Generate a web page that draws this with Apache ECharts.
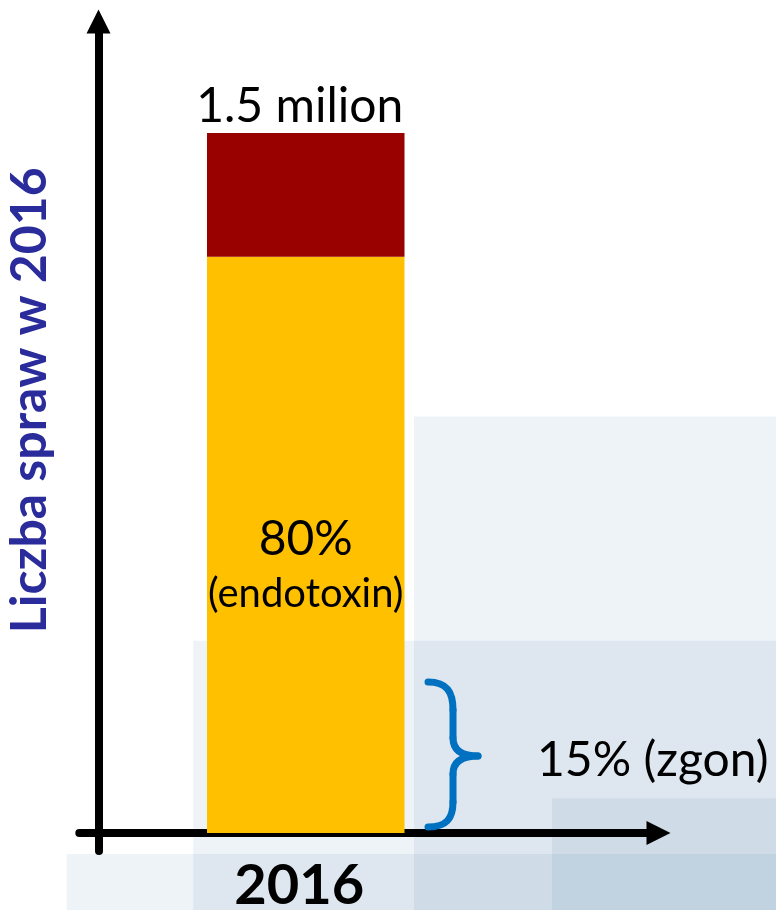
<!DOCTYPE html>
<html>
<head>
<meta charset="utf-8">
<script src="https://cdn.jsdelivr.net/npm/echarts@6/dist/echarts.min.js"></script>
<style>
html,body{margin:0;padding:0;background:#fff;}
#chart{width:776px;height:910px;}
</style>
</head>
<body>
<div id="chart"></div>
<script>
// ---- data ----
const categories = ['2016'];
const endotoxinValues = [1.235];  // yellow segment (80%)
const otherValues = [0.265];      // dark red segment
const totalLabel = '1.5 milion';
const endotoxinPct = '80%';
const endotoxinName = '(endotoxin)';
const deathLabel = '15% (zgon)';
const yAxisName = 'Liczba spraw w 2016';

// ---- layout ----
const FONT = 'Lato, "Open Sans", sans-serif';
const yMin = -0.0386, yMax = 1.739;
const gridTop = 21.5, gridBottom = 59;

const chart = echarts.init(document.getElementById('chart'), null, {renderer: 'canvas'});

const tint = 'rgba(31,95,150,0.075)';
const braceStyle = {stroke: '#0070C0', lineWidth: 7, lineCap: 'round', fill: 'none'};
function bez(x1, y1, cpx1, cpy1, cpx2, cpy2, x2, y2) {
  return {type: 'bezierCurve', z: 20, silent: true,
    shape: {x1, y1, cpx1, cpy1, cpx2, cpy2, x2, y2}, style: braceStyle};
}
function seg(x1, y1, x2, y2) {
  return {type: 'line', z: 20, silent: true, shape: {x1, y1, x2, y2}, style: braceStyle};
}

const option = {
  animation: false,
  backgroundColor: '#ffffff',
  grid: [
    {left: 79.3, right: 117.5, top: gridTop, bottom: gridBottom, containLabel: false, outerBoundsMode: 'none'},
    {left: 207, width: 197.5, top: gridTop, bottom: gridBottom, containLabel: false, outerBoundsMode: 'none'}
  ],
  xAxis: [
    {
      gridIndex: 0, type: 'category', data: categories,
      axisLine: {show: true, onZero: true, symbol: ['none', 'triangle'], symbolSize: [24, 24],
        lineStyle: {color: '#000', width: 8}},
      axisTick: {show: false}, axisLabel: {show: false}, splitLine: {show: false}
    },
    {
      gridIndex: 1, type: 'category', data: categories,
      axisLine: {show: false, onZero: true}, axisTick: {show: false},
      axisLabel: {show: true, margin: 7, fontFamily: FONT, fontWeight: 'bold', fontSize: 56, color: '#000',
        padding: [0, 13, 0, 0]},
      splitLine: {show: false}
    }
  ],
  yAxis: [
    {
      gridIndex: 0, type: 'value', min: yMin, max: yMax, offset: -19.2,
      name: yAxisName, nameLocation: 'middle', nameRotate: 90, nameGap: 44,
      nameTextStyle: {fontFamily: FONT, fontWeight: 'bold', fontSize: 50, color: '#2B2C9B', padding: [0, 0, 0, 72]},
      axisLine: {show: true, symbol: ['none', 'triangle'], symbolSize: [24, 24],
        lineStyle: {color: '#000', width: 8}},
      axisTick: {show: false}, axisLabel: {show: false}, splitLine: {show: false}
    },
    {
      gridIndex: 1, type: 'value', min: yMin, max: yMax,
      axisLine: {show: false}, axisTick: {show: false}, axisLabel: {show: false}, splitLine: {show: false}
    }
  ],
  series: [
    {
      name: 'endotoxin', type: 'bar', xAxisIndex: 1, yAxisIndex: 1, stack: 'total',
      barWidth: '100%', data: endotoxinValues, z: 3,
      itemStyle: {color: '#FFC000'},
      label: {
        show: true, position: 'inside', offset: [0, 22],
        formatter: () => '{a|' + endotoxinPct + '}\n{b|' + endotoxinName + '}',
        rich: {
          a: {fontFamily: FONT, fontSize: 48, color: '#000', lineHeight: 54},
          b: {fontFamily: FONT, fontSize: 40, color: '#000', lineHeight: 54}
        }
      }
    },
    {
      name: 'other', type: 'bar', xAxisIndex: 1, yAxisIndex: 1, stack: 'total',
      barWidth: '100%', data: otherValues, z: 3,
      itemStyle: {color: '#990000'},
      label: {
        show: true, position: 'top', distance: 3, offset: [-6, 0],
        formatter: () => totalLabel,
        fontFamily: FONT, fontSize: 48, color: '#000'
      }
    }
  ],
  graphic: [
    {type: 'rect', z: -10, silent: true, shape: {x: 414, y: 416.5, width: 362, height: 494}, style: {fill: tint}},
    {type: 'rect', z: -10, silent: true, shape: {x: 193.3, y: 640.7, width: 583, height: 270}, style: {fill: tint}},
    {type: 'rect', z: -10, silent: true, shape: {x: 552, y: 798.3, width: 224, height: 112}, style: {fill: tint}},
    {type: 'rect', z: -10, silent: true, shape: {x: 66.7, y: 854, width: 710, height: 56}, style: {fill: tint}},
    bez(428, 682, 447, 682, 453, 692, 453, 710),
    seg(453, 710, 453, 738),
    bez(453, 738, 453, 750, 461, 756, 478, 756),
    bez(478, 756, 461, 756, 453, 762, 453, 774),
    seg(453, 774, 453, 802),
    bez(453, 802, 453, 818, 447, 827, 428, 827),
    {
      type: 'text', z: 20, silent: true, left: 537, top: 737,
      style: {text: deathLabel, fontFamily: FONT, fontSize: 48, fill: '#000'}
    }
  ]
};
chart.setOption(option);
</script>
</body>
</html>
